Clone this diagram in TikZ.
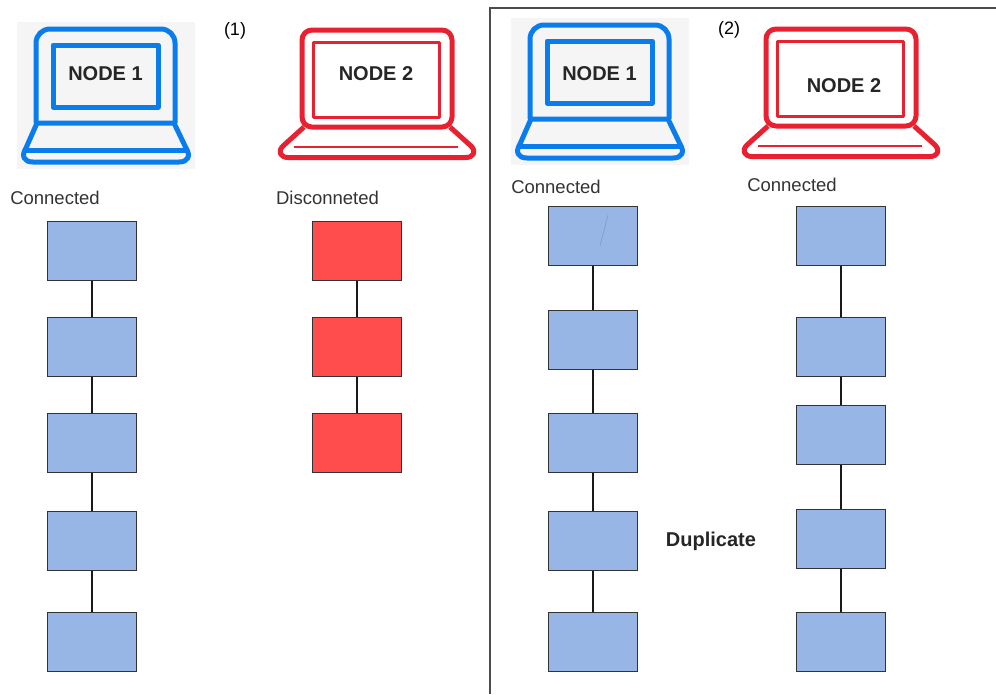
\documentclass[tikz,border=0pt]{standalone}
\usepackage{fontspec}
\setmainfont{Liberation Sans}
\usepackage{tikz}

\definecolor{boxblue}{HTML}{97B6E5}
\definecolor{boxred}{HTML}{FF4D4D}
\definecolor{lapblue}{HTML}{0A7CEB}
\definecolor{lapred}{HTML}{E8202F}
\definecolor{lapgray}{HTML}{F5F5F5}
\definecolor{labelgray}{HTML}{333333}

\tikzset{
    bluebox/.style={draw=black!80, line width=0.9pt, fill=boxblue, minimum width=89pt, minimum height=59pt, inner sep=0pt},
    redbox/.style={bluebox, fill=boxred},
    link/.style={black!90, line width=2.5pt},
    caption/.style={text=labelgray, font=\fontsize{18.5}{20}\selectfont, inner sep=0pt},
    nodename/.style={font=\fontsize{20}{22}\selectfont\bfseries, text=black!85, inner sep=0pt},
    tag/.style={font=\fontsize{18}{20}\selectfont, text=black, inner sep=0pt},
    bluelap/.style={draw=lapblue, line width=5pt, line join=round},
    redlap/.style={draw=lapred, line width=5pt, line join=round}
}

\newcommand{\lapone}{
    \fill[lapgray] (17,22) rectangle (195,169);
    \draw[bluelap, rounded corners=14pt] (36,123) -- (36,29) -- (175,29) -- (175,123);
    \draw[bluelap] (53,45) rectangle (158,107);
    \draw[bluelap] (26,148) -- (37,123) -- (174,123) -- (186,148) .. controls (191,156) and (188,162) .. (179,162) -- (33,162) .. controls (24,162) and (21,156) .. (26,148);
    \draw[bluelap] (25,150) -- (187,150);
}
\newcommand{\laptwo}{
    \draw[redlap, rounded corners=10pt] (302,127) -- (302,30) -- (452,30) -- (452,127) -- cycle;
    \draw[redlap, line width=3pt] (313,42) rectangle (439,117);
    \draw[redlap] (304,127) -- (283,146) .. controls (277,152) and (281,157.5) .. (288,157.5) -- (466,157.5) .. controls (473,157.5) and (477,152) .. (471,146) -- (450,127);
    \draw[redlap, line width=2.5pt] (294,147) -- (458,147);
}

\begin{document}
\begin{tikzpicture}[x=1pt, y=-1pt]
    \useasboundingbox (0,0) rectangle (996,694);

    % Frame round the second case
    \draw[black!70, line width=1.2pt] (490,694) -- (490,8) -- (996,8);

    % Case 1, laptops
    \lapone
    \laptwo
    \node[nodename] (name1) at (105.5,74) {NODE 1};
    \node[nodename] (name2) at (376,74) {NODE 2};
    \node[tag] (tag1) at (235,31) {(1)};
    \node[caption] (capa) at (55,198) {Connected};
    \node[caption] (capb) at (327.5,198) {Disconneted};

    % Case 1, Node 1
    \node[bluebox] (a1) at (92,251) {};
    \node[bluebox] (a2) at (92,347) {};
    \node[bluebox] (a3) at (92,443) {};
    \node[bluebox] (a4) at (92,541) {};
    \node[bluebox] (a5) at (92,642) {};
    \draw[link] (a1) -- (a2);
    \draw[link] (a2) -- (a3);
    \draw[link] (a3) -- (a4);
    \draw[link] (a4) -- (a5);

    % Case 1, Node 2
    \node[redbox] (b1) at (357,251) {};
    \node[redbox] (b2) at (357,347) {};
    \node[redbox] (b3) at (357,443) {};
    \draw[link] (b1) -- (b2);
    \draw[link] (b2) -- (b3);

    % Case 2, laptops
    \begin{scope}[shift={(494,-4)}]
        \lapone
    \end{scope}
    \begin{scope}[shift={(464,-1)}]
        \laptwo
    \end{scope}
    \node[nodename] (name3) at (599.5,74) {NODE 1};
    \node[nodename] (name4) at (844,86) {NODE 2};
    \node[tag] (tag2) at (729,30) {(2)};
    \node[caption] (capc) at (556,187) {Connected};
    \node[caption] (capd) at (792,185) {Connected};

    % Case 2, Node 1
    \node[bluebox] (c1) at (593,236) {};
    \node[bluebox] (c2) at (593,340) {};
    \node[bluebox] (c3) at (593,443) {};
    \node[bluebox] (c4) at (593,541) {};
    \node[bluebox] (c5) at (593,642) {};
    \draw[boxblue!85!black, line width=0.6pt] (608,215) -- (600,246);
    \draw[link] (c1) -- (c2);
    \draw[link] (c2) -- (c3);
    \draw[link] (c3) -- (c4);
    \draw[link] (c4) -- (c5);

    % Case 2, Node 2
    \node[bluebox] (d1) at (841,236) {};
    \node[bluebox] (d2) at (841,347) {};
    \node[bluebox] (d3) at (841,435) {};
    \node[bluebox] (d4) at (841,539) {};
    \node[bluebox] (d5) at (841,642) {};
    \draw[link] (d1) -- (d2);
    \draw[link] (d2) -- (d3);
    \draw[link] (d3) -- (d4);
    \draw[link] (d4) -- (d5);

    \node[nodename, font=\fontsize{20}{22}\selectfont\bfseries] (dup) at (711,541) {Duplicate};
\end{tikzpicture}
\end{document}
